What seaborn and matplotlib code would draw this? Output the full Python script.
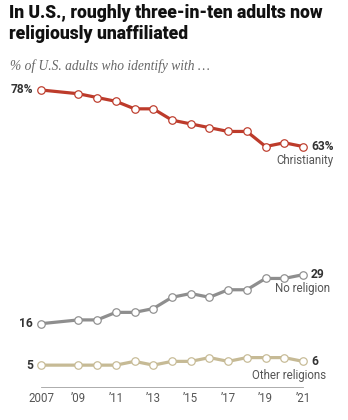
import matplotlib
matplotlib.use("Agg")
import matplotlib.pyplot as plt
import seaborn as sns
import pandas as pd

# Survey years (no 2008 data point)
years = [2007, 2009, 2010, 2011, 2012, 2013, 2014, 2015, 2016, 2017, 2018, 2019, 2020, 2021]
christianity = [78, 77, 76, 75, 73, 73, 70, 69, 68, 67, 67, 63, 64, 63]
no_religion = [16, 17, 17, 19, 19, 20, 23, 24, 23, 25, 25, 28, 28, 29]
other_religions = [5, 5, 5, 5, 6, 5, 6, 6, 7, 6, 7, 7, 7, 6]

groups = ["Christianity", "No religion", "Other religions"]
colors = {"Christianity": "#BD3B2B", "No religion": "#8E8E8E", "Other religions": "#C6BA95"}

tick_years = [2007, 2009, 2011, 2013, 2015, 2017, 2019, 2021]
tick_labels = ["2007", "\u201909", "\u201911", "\u201913", "\u201915", "\u201917", "\u201919", "\u201921"]

df = pd.concat([
    pd.DataFrame({"year": years, "pct": christianity, "group": "Christianity"}),
    pd.DataFrame({"year": years, "pct": no_religion, "group": "No religion"}),
    pd.DataFrame({"year": years, "pct": other_religions, "group": "Other religions"}),
])

sns.set_style("white")
plt.rcParams["font.family"] = ["Roboto", "DejaVu Sans"]

W, H = 348, 420
fig = plt.figure(figsize=(W / 72, H / 72), dpi=72)
fig.patch.set_facecolor("white")

def px(x, y):
    return x / W, 1 - y / H

# axes box in pixels: x 41..303, y 80..387
ax = fig.add_axes([41 / W, (H - 387) / H, (303 - 41) / W, (387 - 80) / H])

for g in groups:
    sub = df[df["group"] == g]
    sns.lineplot(data=sub, x="year", y="pct", color=colors[g], linewidth=3.2,
                 marker="o", markersize=7.5, markerfacecolor="white",
                 markeredgecolor=colors[g], markeredgewidth=1.2,
                 ax=ax, legend=False, clip_on=False, zorder=3)

ax.set_xlim(2007, 2021)
ax.set_ylim(-0.8, 80.65)
ax.set_xlabel("")
ax.set_ylabel("")
ax.set_yticks([])
ax.set_xticks(years, minor=False)
ax.set_xticklabels([tick_labels[tick_years.index(y)] if y in tick_years else "" for y in years])
ax.tick_params(axis="x", direction="in", length=3.5, width=0.8, color="#9a9a9a",
               labelsize=11.5, labelcolor="#555555", pad=5)
for s in ["top", "right", "left"]:
    ax.spines[s].set_visible(False)
ax.spines["bottom"].set_color("#9a9a9a")
ax.spines["bottom"].set_linewidth(0.8)

# start and end labels
starts = {"Christianity": "78%", "No religion": "16", "Other religions": "5"}
ends = {"Christianity": "63%", "No religion": "29", "Other religions": "6"}
series = {"Christianity": christianity, "No religion": no_religion, "Other religions": other_religions}
cat_dx = {"Christianity": 31, "No religion": 27, "Other religions": 23}
for g in groups:
    vals = series[g]
    ax.annotate(starts[g], (years[0], vals[0]), xytext=(-8, 0), textcoords="offset points",
                ha="right", va="center", fontsize=12, fontweight="bold", color="#333333")
    ax.annotate(ends[g], (years[-1], vals[-1]), xytext=(8, 0), textcoords="offset points",
                ha="left", va="center", fontsize=12, fontweight="bold", color="#333333")
    ax.annotate(g, (years[-1], vals[-1]), xytext=(cat_dx[g], -14), textcoords="offset points",
                ha="right", va="center", fontsize=11.5, color="#555555")

fig.text(*px(9, 4), "In U.S., roughly three-in-ten adults now\nreligiously unaffiliated",
         ha="left", va="top", fontsize=17.5, fontweight="heavy", color="#111111", linespacing=1.2)
fig.text(*px(10, 66), "% of U.S. adults who identify with \u2026",
         ha="left", va="center", fontsize=13.5, fontstyle="italic", color="#666666",
         family=["Liberation Serif", "DejaVu Serif"])

fig.savefig("out.png", dpi=72, facecolor="white")
